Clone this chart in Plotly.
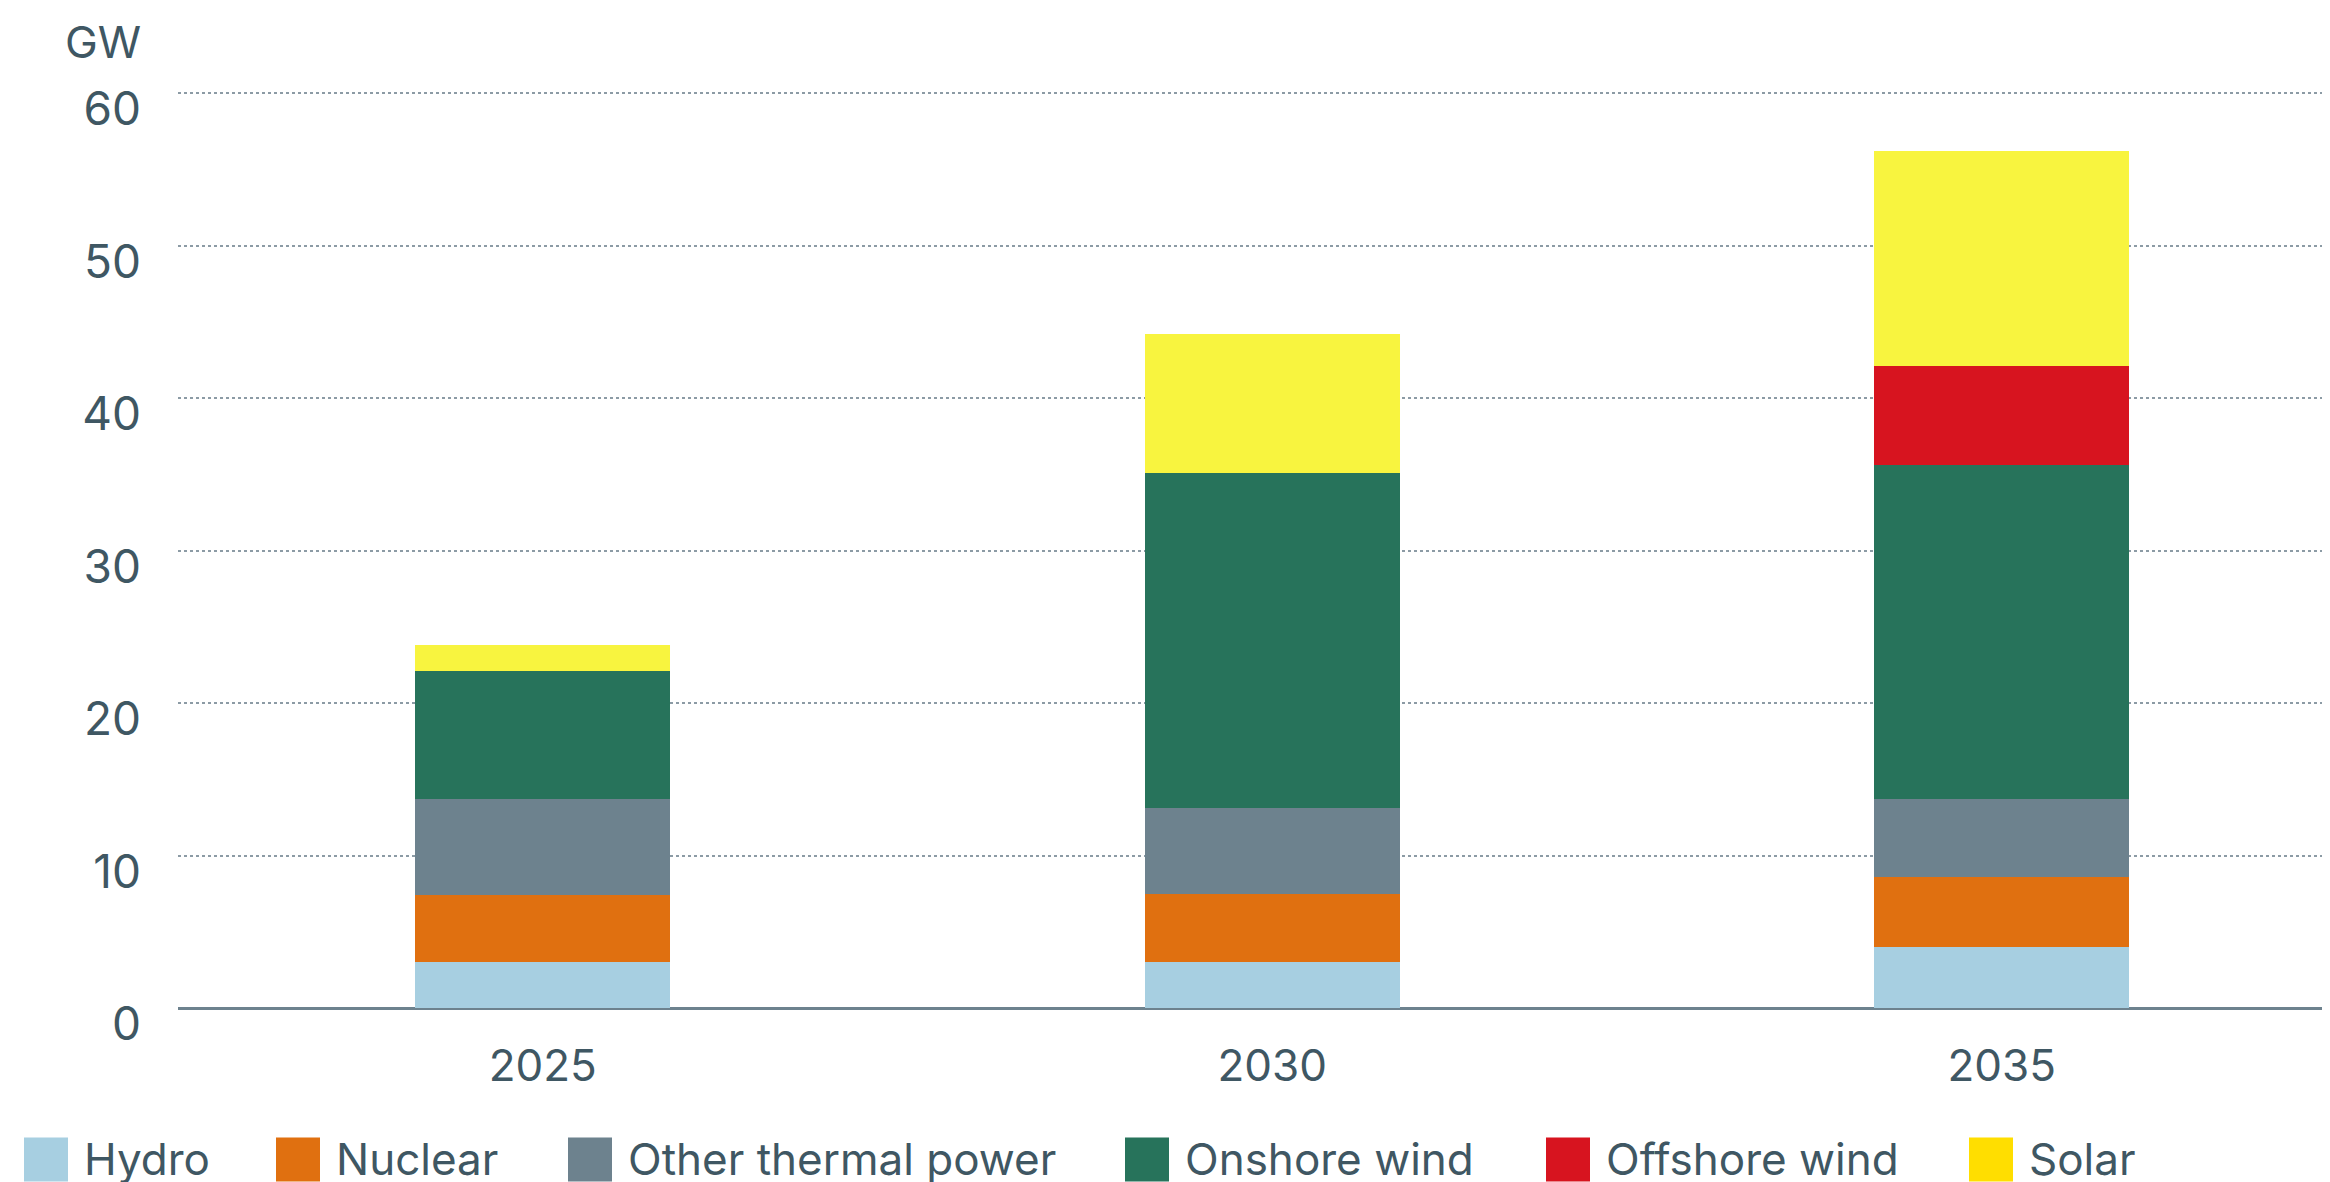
import plotly.graph_objects as go

# ---- data ----
years = ["2025", "2030", "2035"]
series_names = ["Hydro", "Nuclear", "Other thermal power", "Onshore wind", "Offshore wind", "Solar"]
hydro = [3.0, 3.0, 4.0]
nuclear = [4.4, 4.5, 4.6]
other_thermal = [6.3, 5.6, 5.1]
onshore_wind = [8.4, 22.0, 21.9]
offshore_wind = [0.0, 0.0, 6.5]
solar = [1.7, 9.1, 14.1]
y_ticks = [0, 10, 20, 30, 40, 50, 60]
unit_label = "GW"

series_values = [hydro, nuclear, other_thermal, onshore_wind, offshore_wind, solar]
bar_colors = ["#a7cfe1", "#e07010", "#6d828e", "#27735b", "#d7141f", "#f8f43f"]
legend_colors = ["#a7cfe1", "#e07010", "#6d828e", "#27735b", "#d7141f", "#ffde00"]

# ---- layout geometry (page pixels; the page body adds an 8px offset) ----
OFF = 8
W, H = 2330 - OFF, 1182 - OFF
ML, MR, MT = 178 - OFF, 0, 78 - OFF
PLOT_BOTTOM = 1008.5 - OFF
MB = H - PLOT_BOTTOM
PW, PH = W - ML - MR, H - MT - MB
TEXT = "#3f5763"
FONT = "Inter"


def px_x(px):
    return (px - OFF - ML) / PW


def px_y(py):
    return (PLOT_BOTTOM - (py - OFF)) / PH


fig = go.Figure()
for name, vals, col in zip(series_names, series_values, bar_colors):
    fig.add_trace(go.Bar(x=years, y=vals, name=name, marker=dict(color=col, line=dict(width=0)),
                         width=0.35, showlegend=False))

fig.update_layout(
    width=W, height=H,
    margin=dict(l=ML, r=MR, t=MT, b=MB, pad=0),
    barmode="stack",
    paper_bgcolor="white", plot_bgcolor="white",
    font=dict(family=FONT, size=46, color=TEXT),
    showlegend=False,
    xaxis=dict(type="category", range=[-0.5, 2.45], showgrid=False, zeroline=False,
               showline=False, ticks="", ticklabelstandoff=28,
               tickfont=dict(family=FONT, size=44, color=TEXT)),
    yaxis=dict(range=[0, 61], tickvals=y_ticks, ticktext=[str(v) for v in y_ticks],
               showgrid=True, gridcolor="#8c9ba5", gridwidth=2, griddash="dot",
               zeroline=True, zerolinecolor="#6d828e", zerolinewidth=3,
               showline=False, ticks="", ticklabelstandoff=36, ticklabelshift=16,
               tickfont=dict(family=FONT, size=46, color=TEXT)),
)

annotations = [dict(text=unit_label, xref="paper", yref="paper", x=px_x(63), y=px_y(42),
                    xanchor="left", yanchor="middle", showarrow=False,
                    font=dict(family=FONT, size=44, color=TEXT))]
shapes = []

legend_swatch_x = [24, 276, 568, 1125, 1546, 1969]
sw = 44
sy0, sy1 = 1138, 1182
for name, col, x0 in zip(series_names, legend_colors, legend_swatch_x):
    shapes.append(dict(type="rect", xref="paper", yref="paper",
                       x0=px_x(x0), x1=px_x(x0 + sw), y0=px_y(sy1), y1=px_y(sy0),
                       fillcolor=col, line=dict(width=0), layer="above"))
    annotations.append(dict(text=name, xref="paper", yref="paper",
                            x=px_x(x0 + sw + 14), y=px_y(1160), xanchor="left", yanchor="middle",
                            showarrow=False, font=dict(family=FONT, size=44, color=TEXT)))

fig.update_layout(annotations=annotations, shapes=shapes)
fig.write_html("out.html")
